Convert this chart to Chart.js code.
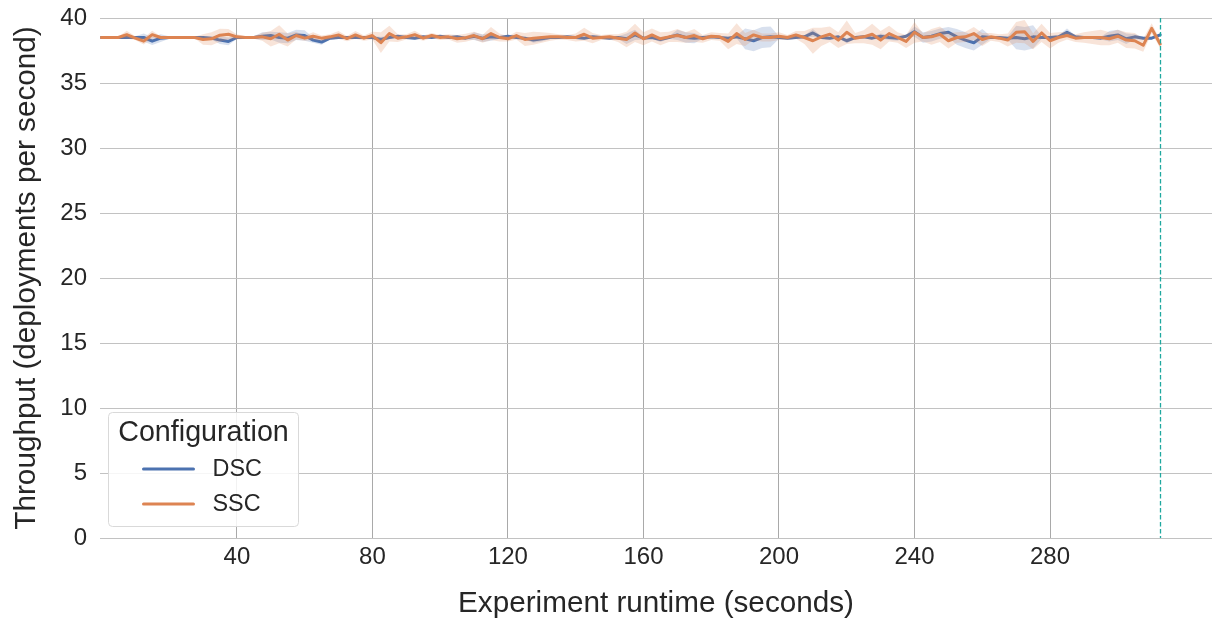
<!DOCTYPE html>
<html>
<head>
<meta charset="utf-8">
<script src="https://cdn.jsdelivr.net/npm/chart.js@4.4.1/dist/chart.umd.min.js"></script>
<style>
  html, body { margin: 0; padding: 0; background: #ffffff; }
  #wrap { width: 1214px; height: 624px; }
</style>
</head>
<body>
<div id="wrap"><canvas id="c" width="1214" height="624"></canvas></div>
<script>
// ---- data ----
const seriesNames = ["DSC", "SSC"];
const timeSec = [0,2.5,5,7.5,10,12.5,15,17.5,20,22.5,25,27.5,30,32.5,35,37.5,40,42.5,45,47.5,50,52.5,55,57.5,60,62.5,65,67.5,70,72.5,75,77.5,80,82.5,85,87.5,90,92.5,95,97.5,100,102.5,105,107.5,110,112.5,115,117.5,120,122.5,125,127.5,130,132.5,135,137.5,140,142.5,145,147.5,150,152.5,155,157.5,160,162.5,165,167.5,170,172.5,175,177.5,180,182.5,185,187.5,190,192.5,195,197.5,200,202.5,205,207.5,210,212.5,215,217.5,220,222.5,225,227.5,230,232.5,235,237.5,240,242.5,245,247.5,250,252.5,255,257.5,260,262.5,265,267.5,270,272.5,275,277.5,280,282.5,285,287.5,290,292.5,295,297.5,300,302.5,305,307.5,310,312.5];
const dscMean = [
 38.5,38.5,38.5,38.5,38.5,38.5,38.22,38.45,38.5,38.5,
 38.5,38.5,38.5,38.45,38.3,38.2,38.5,38.5,38.5,38.6,
 38.65,38.5,38.45,38.7,38.65,38.3,38.15,38.45,38.5,38.5,
 38.5,38.5,38.5,38.35,38.5,38.6,38.5,38.45,38.55,38.5,
 38.6,38.5,38.55,38.45,38.6,38.45,38.55,38.5,38.6,38.5,
 38.45,38.3,38.4,38.5,38.5,38.55,38.5,38.45,38.55,38.5,
 38.45,38.5,38.4,38.7,38.45,38.5,38.35,38.5,38.7,38.5,
 38.45,38.5,38.55,38.5,38.45,38.55,38.4,38.25,38.5,38.55,
 38.5,38.45,38.5,38.55,38.85,38.5,38.45,38.55,38.25,38.5,
 38.55,38.45,38.6,38.5,38.45,38.6,38.95,38.5,38.6,38.8,
 38.9,38.55,38.3,38.1,38.55,38.5,38.5,38.45,38.5,38.4,
 38.55,38.5,38.5,38.55,38.9,38.55,38.5,38.5,38.45,38.6,
 38.7,38.4,38.55,38.45,38.45,38.7];
const sscMean = [
 38.5,38.5,38.5,38.72,38.45,38.22,38.72,38.5,38.5,38.5,
 38.5,38.5,38.35,38.4,38.68,38.75,38.55,38.5,38.5,38.55,
 38.4,38.75,38.3,38.65,38.45,38.6,38.45,38.55,38.7,38.42,
 38.7,38.45,38.65,38.1,38.8,38.45,38.55,38.72,38.45,38.65,
 38.5,38.55,38.4,38.48,38.65,38.4,38.8,38.5,38.4,38.65,
 38.35,38.45,38.5,38.55,38.55,38.5,38.5,38.75,38.45,38.5,
 38.55,38.45,38.35,38.85,38.4,38.7,38.4,38.55,38.65,38.5,
 38.65,38.4,38.6,38.55,38.2,38.8,38.35,38.7,38.5,38.5,
 38.6,38.5,38.7,38.5,38.25,38.55,38.75,38.3,38.9,38.45,
 38.55,38.75,38.3,38.8,38.5,38.2,38.9,38.5,38.55,38.75,
 38.25,38.5,38.55,38.8,38.35,38.55,38.45,38.3,38.9,38.95,
 38.2,38.85,38.25,38.5,38.65,38.45,38.5,38.5,38.5,38.4,
 38.6,38.3,38.25,37.9,39.2,38.0];
const dscCI = [
 .05,.05,.05,.05,.1,.3,.3,.3,.1,.05,
 .05,.05,.1,.1,.3,.3,.1,.1,.1,.3,
 .3,.4,.4,.4,.4,.2,.2,.1,.1,.1,
 .1,.1,.1,.2,.1,.1,.1,.1,.1,.1,
 .1,.1,.1,.1,.3,.3,.3,.1,.1,.1,
 .1,.2,.2,.1,.1,.1,.1,.1,.1,.1,
 .1,.1,.4,.4,.1,.1,.2,.1,.4,.4,
 .4,.1,.1,.1,.1,.1,.8,.8,.8,.8,
 .1,.1,.1,.1,.3,.1,.1,.1,.2,.1,
 .1,.1,.2,.2,.2,.1,.4,.4,.4,.4,
 .4,.6,.6,.6,.6,.1,.1,.1,.9,.9,
 .9,.1,.1,.1,.3,.1,.1,.1,.1,.4,
 .4,.4,.2,.1,.1,.1];
const sscCI = [
 .05,.05,.05,.3,.15,.25,.3,.1,.05,.05,
 .05,.05,.4,.5,.5,.4,.2,.1,.1,.3,
 .6,.7,.5,.3,.2,.3,.2,.2,.3,.2,
 .3,.2,.3,.8,.6,.3,.2,.3,.2,.2,
 .2,.2,.3,.3,.3,.3,.5,.3,.2,.3,
 .5,.5,.4,.3,.2,.2,.3,.5,.4,.2,
 .2,.3,.6,.7,.5,.5,.5,.4,.5,.4,
 .5,.3,.3,.3,.6,.8,.5,.4,.3,.3,
 .3,.2,.3,.5,1.0,.7,.6,.6,.9,.4,
 .5,.8,.7,.6,.4,.5,.8,.3,.6,.6,
 .6,.4,.4,.5,.5,.3,.3,.5,.8,.9,
 .6,.7,.6,.4,.3,.3,.4,.5,.6,.5,
 .5,.6,.6,.5,.4,.3];
const xTickValues = [40, 80, 120, 160, 200, 240, 280];
const yTickValues = [0, 5, 10, 15, 20, 25, 30, 35, 40];
const experimentEnd = 312.5;

// ---- styling ----
const FONT = '"Liberation Sans", Arial, "DejaVu Sans", sans-serif';
const TEXT = '#262626';
const COLORS = { DSC: '#4c72b0', SSC: '#dd8452' };
const BANDS = { DSC: 'rgba(76,114,176,0.22)', SSC: 'rgba(221,132,82,0.22)' };

function pts(arr, ci, sign) {
  return timeSec.map((t, i) => ({ x: t, y: ci ? arr[i] + sign * ci[i] : arr[i] }));
}

const means = { DSC: dscMean, SSC: sscMean };
const cis = { DSC: dscCI, SSC: sscCI };
const datasets = [];
seriesNames.forEach((name, k) => {
  const base = (seriesNames.length - k) * 10;
  datasets.push({ label: name + ' lo', data: pts(means[name], cis[name], -1), borderWidth: 0, pointRadius: 0, fill: false, order: base + 2 });
  datasets.push({ label: name + ' hi', data: pts(means[name], cis[name], 1), borderWidth: 0, pointRadius: 0, fill: '-1', backgroundColor: BANDS[name], order: base + 1 });
  datasets.push({ label: name, data: pts(means[name]), borderColor: COLORS[name], borderWidth: 3, pointRadius: 0, fill: false, tension: 0, order: base, borderJoinStyle: 'round', borderCapStyle: 'round' });
});

const endLinePlugin = {
  id: 'endLine',
  afterDatasetsDraw(chart) {
    const { ctx, chartArea, scales } = chart;
    const x = Math.round(scales.x.getPixelForValue(experimentEnd)) + 0.5;
    ctx.save();
    ctx.strokeStyle = '#1fa89f';
    ctx.lineWidth = 1.3;
    ctx.setLineDash([4.5, 2.5]);
    ctx.beginPath();
    ctx.moveTo(x, chartArea.top);
    ctx.lineTo(x, chartArea.bottom);
    ctx.stroke();
    ctx.restore();
  }
};

const legendPlugin = {
  id: 'boxLegend',
  afterDraw(chart) {
    const { ctx, chartArea } = chart;
    const bx = chartArea.left + 8.5, by = chartArea.bottom - 125.5, bw = 190, bh = 114;
    ctx.save();
    ctx.beginPath();
    ctx.roundRect(bx, by, bw, bh, 4);
    ctx.fillStyle = 'rgba(255,255,255,0.85)';
    ctx.fill();
    ctx.strokeStyle = '#d9d9d9';
    ctx.lineWidth = 1;
    ctx.stroke();
    ctx.fillStyle = TEXT;
    ctx.textBaseline = 'middle';
    ctx.textAlign = 'center';
    ctx.font = '28.7px ' + FONT;
    ctx.fillText('Configuration', bx + bw / 2, by + 21);
    ctx.textAlign = 'left';
    ctx.font = '23.4px ' + FONT;
    seriesNames.forEach((name, k) => {
      const y = by + 56.5 + k * 35;
      ctx.strokeStyle = COLORS[name];
      ctx.lineWidth = 3;
      ctx.lineCap = 'round';
      ctx.beginPath();
      ctx.moveTo(bx + 35, y);
      ctx.lineTo(bx + 85, y);
      ctx.stroke();
      ctx.fillText(name, bx + 104, y + 1);
    });
    ctx.restore();
  }
};

new Chart(document.getElementById('c'), {
  type: 'line',
  data: { datasets },
  options: {
    responsive: false,
    animation: false,
    events: [],
    layout: { padding: { top: 18, right: 2, left: 0, bottom: 0 } },
    plugins: { legend: { display: false }, tooltip: { enabled: false } },
    scales: {
      x: {
        type: 'linear',
        min: -0.4,
        max: 327.8,
        afterBuildTicks: (s) => { s.ticks = xTickValues.map(v => ({ value: v })); },
        afterFit: (s) => { s.height = 86; s.paddingLeft = 0; s.paddingRight = 0; },
        ticks: { color: TEXT, font: { family: FONT, size: 24 }, padding: 5, maxRotation: 0, autoSkip: false, callback: v => String(v) },
        grid: { color: '#a9a9a9', lineWidth: 1, drawTicks: false },
        border: { display: false },
        title: { display: true, text: 'Experiment runtime (seconds)', color: TEXT, font: { family: FONT, size: 29.7 }, padding: { top: 2, bottom: 2 } }
      },
      y: {
        min: 0,
        max: 40,
        afterBuildTicks: (s) => { s.ticks = yTickValues.map(v => ({ value: v })); },
        afterFit: (s) => { s.width = 100; s.paddingTop = 0; s.paddingBottom = 0; },
        ticks: { color: TEXT, font: { family: FONT, size: 24 }, padding: 13, callback: v => String(v) },
        grid: { color: '#c2c2c2', lineWidth: 1, drawTicks: false },
        border: { display: false },
        title: { display: true, text: 'Throughput (deployments per second)', color: TEXT, font: { family: FONT, size: 29.7 }, padding: { top: 9, bottom: 9 } }
      }
    }
  },
  plugins: [endLinePlugin, legendPlugin]
});
</script>
</body>
</html>
